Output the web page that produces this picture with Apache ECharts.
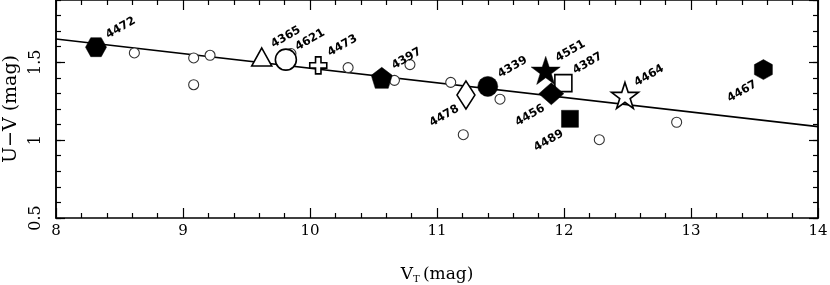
<!DOCTYPE html>
<html><head><meta charset="utf-8">
<script src="https://cdn.jsdelivr.net/npm/echarts@6/dist/echarts.min.js"></script>
<style>html,body{margin:0;padding:0;background:#fff}#c{width:830px;height:285px}</style>
</head><body><div id="c"></div>
<script>
// ---- data ----
const clusterNames = ['4472','4365','4621','4473','4397','4478','4339','4551','4387','4456','4489','4464','4467'];
const clusterVT    = [8.315, 9.62, 9.81, 10.065, 10.565, 11.228, 11.40, 11.856, 11.995, 11.90, 12.047, 12.48, 13.57];
const clusterUV    = [1.597, 1.534, 1.517, 1.48, 1.40, 1.29, 1.345, 1.448, 1.366, 1.298, 1.137, 1.287, 1.453];
const fieldVT = [8.617, 9.084, 9.213, 9.084, 9.85, 10.30, 10.665, 10.787, 11.108, 11.496, 11.207, 12.278, 12.887];
const fieldUV = [1.560, 1.528, 1.545, 1.356, 1.556, 1.466, 1.384, 1.485, 1.371, 1.263, 1.035, 1.003, 1.115];
const fitVT = [8, 14];
const fitUV = [1.65, 1.087];
const xTickValues = [8, 9, 10, 11, 12, 13, 14];
const yTickValues = [0.5, 1, 1.5];

// ---- styles ----
const P = {
  star: 'path://M50,0 L61.8,35.1 L98.9,35.1 L68.9,56.9 L80.3,91.8 L50,70.2 L19.7,91.8 L31.1,56.9 L1.1,35.1 L38.2,35.1 Z',
  pent: 'path://M50,0 L100,38 L81,100 L19,100 L0,38 Z',
  hexV: 'path://M50,0 L100,25 L100,75 L50,100 L0,75 L0,25 Z',
  hexH: 'path://M25,0 L75,0 L100,50 L75,100 L25,100 L0,50 Z',
  plus: 'path://M34,0 L66,0 L66,34 L100,34 L100,66 L66,66 L66,100 L34,100 L34,66 L0,66 L0,34 L34,34 Z'
};
const sty = {
  '4472': {s: P.hexH, z: [21, 19], f: true,  side: 'ur'},
  '4365': {s: 'triangle', z: [20, 18], f: false, side: 'ur'},
  '4621': {s: 'circle', z: 21, f: false, side: 'ur'},
  '4473': {s: P.plus, z: 17, f: false, side: 'ur'},
  '4397': {s: P.pent, z: [21, 21], f: true, side: 'ur'},
  '4478': {s: 'diamond', z: [18, 28], f: false, side: 'll'},
  '4339': {s: 'circle', z: 20, f: true, side: 'ur'},
  '4551': {s: P.star, z: [29, 28], f: true, side: 'ur'},
  '4387': {s: 'rect', z: 17, f: false, side: 'ur'},
  '4456': {s: 'diamond', z: [25, 22], f: true, side: 'll'},
  '4489': {s: 'rect', z: 17, f: true, side: 'll'},
  '4464': {s: P.star, z: [27, 26], f: false, side: 'ur'},
  '4467': {s: P.hexV, z: [18, 20], f: true, side: 'll'}
};
// label centre displacement from the mark centre (screen px)
const disp = { ur: [25, -19], ll: [-21, 22] };

const clusterSeries = clusterNames.map((n, i) => {
  const st = sty[n];
  const sz = Array.isArray(st.z) ? st.z : [st.z, st.z];
  const d = disp[st.side];
  return {
    type: 'scatter', name: n, xAxisIndex: 0, yAxisIndex: 0,
    data: [{name: n, value: [clusterVT[i], clusterUV[i]]}],
    symbol: st.s, symbolSize: sz,
    itemStyle: st.f ? {color: '#000', borderColor: '#000', borderWidth: 0.5, opacity: 1}
                    : {color: '#fff', borderColor: '#000', borderWidth: 1.6, opacity: 1},
    label: {show: true, position: [sz[0] / 2 + d[0], sz[1] / 2 + d[1]], rotate: 30,
      formatter: p => p.name,
      fontFamily: 'DejaVu Sans', fontWeight: 'bold', fontSize: 11.5, color: '#000',
      align: 'center', verticalAlign: 'middle'},
    labelLayout: {hideOverlap: false},
    emphasis: {disabled: true},
    z: 3
  };
});

const rect = {left: 56, right: 12, top: 0, bottom: 67, containLabel: false,
  outerBounds: {left: -60, right: -60, top: -60, bottom: -60}};
const serif = 'DejaVu Serif';

function xAx(g, pos, withLabels, hidden) {
  if (hidden) return {gridIndex: g, type: 'value', min: 8, max: 14, show: false};
  const a = {
    gridIndex: g, type: 'value', min: 8, max: 14, interval: 1, position: pos,
    axisLine: {show: true, onZero: false, lineStyle: {color: '#000', width: 1.5}},
    axisTick: {show: true, inside: true, length: 10, lineStyle: {color: '#000', width: 1.2}},
    minorTick: {show: true, splitNumber: 5, length: 5, lineStyle: {color: '#000', width: 1.2}},
    splitLine: {show: false}, minorSplitLine: {show: false},
    axisLabel: {show: false}
  };
  if (withLabels) {
    a.axisLabel = {show: true, margin: 6, color: '#000', fontFamily: serif, fontSize: 15,
      formatter: v => xTickValues.includes(v) ? String(v) : ''};
    a.name = '{v|V}{s|T} {v|(mag)}';
    a.nameLocation = 'middle';
    a.nameGap = 48;
    a.nameTextStyle = {rich: {
      v: {fontFamily: serif, fontSize: 17, color: '#000'},
      s: {fontFamily: serif, fontSize: 10, color: '#000', padding: [8, 0, 0, 0]}
    }};
  }
  return a;
}
function yAx(g, pos, minor, withLabels) {
  const a = {
    gridIndex: g, type: 'value', min: 0.5, max: 1.9, interval: minor ? 0.1 : 0.5, position: pos,
    axisLine: {show: true, onZero: false, lineStyle: {color: '#000', width: 1.5}},
    axisTick: {show: true, inside: true, length: minor ? 5 : 9, lineStyle: {color: '#000', width: 1.2}},
    splitLine: {show: false},
    axisLabel: {show: false}
  };
  if (withLabels) {
    a.axisLabel = {show: true, rotate: 90, margin: 12, color: '#000', fontFamily: serif, fontSize: 16,
      showMaxLabel: false,
      formatter: v => { const r = Math.round(v * 10) / 10; return yTickValues.includes(r) ? String(r) : ''; }};
    a.name = 'U\u2212V (mag)';
    a.nameLocation = 'middle';
    a.nameGap = 32;
    a.nameTextStyle = {fontFamily: serif, fontSize: 19, color: '#000'};
  }
  return a;
}

const chart = echarts.init(document.getElementById('c'), null, {renderer: 'canvas'});
chart.setOption({
  animation: false,
  backgroundColor: '#fff',
  grid: [Object.assign({}, rect), Object.assign({}, rect), Object.assign({}, rect), Object.assign({}, rect)],
  xAxis: [xAx(0, 'bottom', true, false), xAx(1, 'top', false, false), xAx(2, 'bottom', false, true), xAx(3, 'bottom', false, true)],
  yAxis: [yAx(0, 'left', false, true), yAx(1, 'right', false, false), yAx(2, 'left', true, false), yAx(3, 'right', true, false)],
  series: [
    {
      type: 'line', xAxisIndex: 0, yAxisIndex: 0,
      data: fitVT.map((x, i) => [x, fitUV[i]]),
      showSymbol: false, symbol: 'none',
      lineStyle: {color: '#000', width: 1.6}, z: 1, silent: true
    },
    {
      type: 'scatter', xAxisIndex: 0, yAxisIndex: 0,
      data: fieldVT.map((x, i) => [x, fieldUV[i]]),
      symbol: 'circle', symbolSize: 10,
      itemStyle: {color: '#fff', borderColor: '#333', borderWidth: 1.1, opacity: 1},
      emphasis: {disabled: true},
      z: 2
    }
  ].concat(clusterSeries)
});
</script>
</body></html>
